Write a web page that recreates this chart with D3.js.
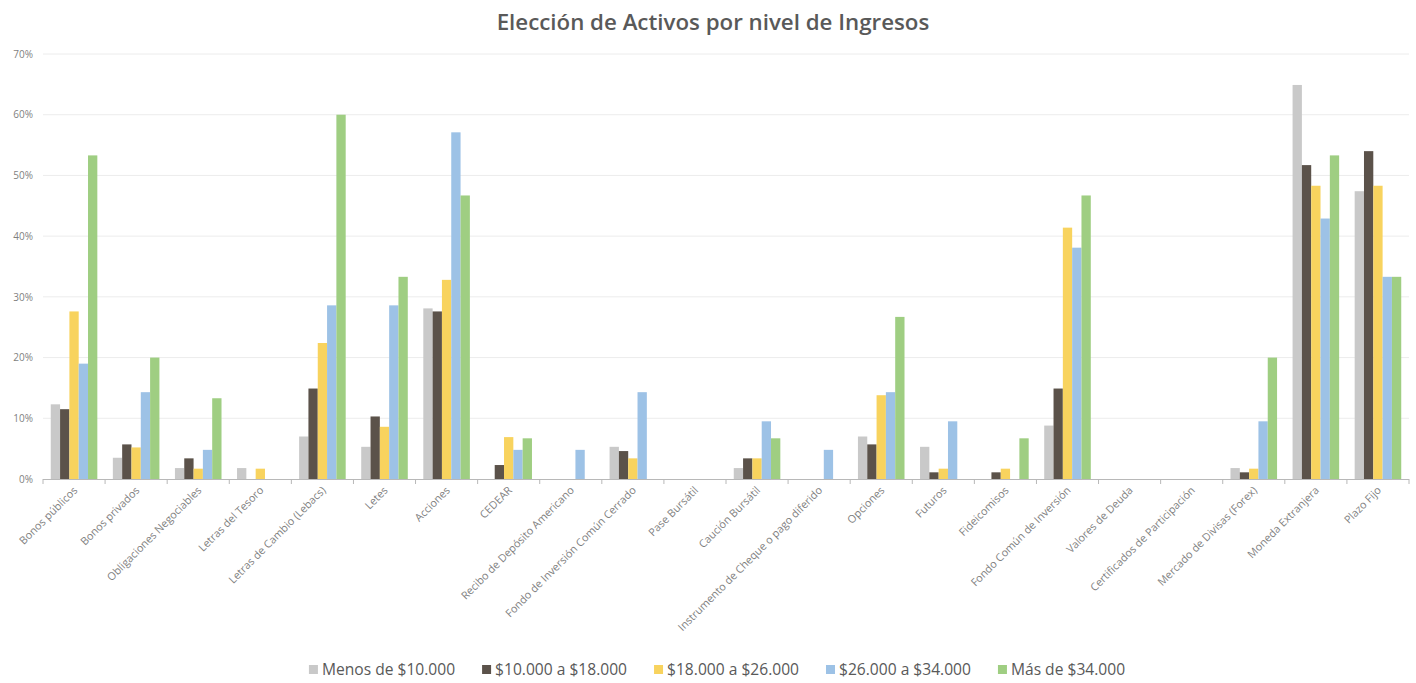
<!DOCTYPE html>
<html>
<head>
<meta charset="utf-8">
<script src="https://cdn.jsdelivr.net/npm/d3@7"></script>
<style>
  html, body { margin: 0; padding: 0; background: #ffffff; }
  svg { display: block; font-family: "Open Sans", "Noto Sans", sans-serif; }
</style>
</head>
<body>
<svg id="chart" width="1416" height="683"></svg>
<script>
// Activos elegidos (% de encuestados) según franja de ingresos
const categories = [
  "Bonos públicos", "Bonos privados", "Obligaciones Negociables", "Letras del Tesoro",
  "Letras de Cambio (Lebacs)", "Letes", "Acciones", "CEDEAR",
  "Recibo de Depósito Americano", "Fondo de Inversión Común Cerrado", "Pase Bursátil",
  "Caución Bursátil", "Instrumento de Cheque o pago diferido", "Opciones", "Futuros",
  "Fideicomisos", "Fondo Común de Inversión", "Valores de Deuda",
  "Certificados de Participación", "Mercado de Divisas (Forex)", "Moneda Extranjera", "Plazo Fijo"
];

const seriesNames = [
  "Menos de $10.000", "$10.000 a $18.000", "$18.000 a $26.000", "$26.000 a $34.000", "Más de $34.000"
];

const menos10000   = [12.3, 3.5, 1.8, 1.8, 7.0, 5.3, 28.1, 0, 0, 5.3, 0, 1.8, 0, 7.0, 5.3, 0, 8.8, 0, 0, 1.8, 64.9, 47.4];
const de10a18000   = [11.5, 5.7, 3.4, 0, 14.9, 10.3, 27.6, 2.3, 0, 4.6, 0, 3.4, 0, 5.7, 1.1, 1.1, 14.9, 0, 0, 1.1, 51.7, 54.0];
const de18a26000   = [27.6, 5.2, 1.7, 1.7, 22.4, 8.6, 32.8, 6.9, 0, 3.4, 0, 3.4, 0, 13.8, 1.7, 1.7, 41.4, 0, 0, 1.7, 48.3, 48.3];
const de26a34000   = [19.0, 14.3, 4.8, 0, 28.6, 28.6, 57.1, 4.8, 4.8, 14.3, 0, 9.5, 4.8, 14.3, 9.5, 0, 38.1, 0, 0, 9.5, 42.9, 33.3];
const masDe34000   = [53.3, 20.0, 13.3, 0, 60.0, 33.3, 46.7, 6.7, 0, 0, 0, 6.7, 0, 26.7, 0, 6.7, 46.7, 0, 0, 20.0, 53.3, 33.3];

const yTicks = [0, 10, 20, 30, 40, 50, 60, 70];
const yTickLabels = ["0%", "10%", "20%", "30%", "40%", "50%", "60%", "70%"];

const colors = ["#c9c9c9", "#5b524a", "#f8d35e", "#9dc2e6", "#9fce82"];

const seriesValues = [menos10000, de10a18000, de18a26000, de26a34000, masDe34000];

const svg = d3.select("#chart");
const plot = { left: 43, right: 1409, top: 54, bottom: 479 };

const x0 = d3.scaleBand()
  .domain(categories)
  .range([plot.left, plot.right])
  .paddingInner(0.25)
  .paddingOuter(0.125);

const x1 = d3.scaleBand()
  .domain(d3.range(seriesNames.length))
  .range([0, x0.bandwidth()])
  .padding(0);

const y = d3.scaleLinear().domain([0, 70]).range([plot.bottom, plot.top]);

// Title
svg.append("text")
  .attr("x", 713).attr("y", 30)
  .attr("text-anchor", "middle")
  .attr("font-size", 22.3)
  .attr("font-weight", 600)
  .attr("fill", "#595959")
  .text("Elección de Activos por nivel de Ingresos");

// Horizontal gridlines
svg.append("g")
  .selectAll("line")
  .data(yTicks.filter(d => d > 0))
  .join("line")
  .attr("x1", plot.left).attr("x2", plot.right)
  .attr("y1", d => y(d)).attr("y2", d => y(d))
  .attr("stroke", "#ececec").attr("stroke-width", 1);

// Y axis labels
const yAxis = d3.axisLeft(y)
  .tickValues(yTicks)
  .tickFormat((d, i) => yTickLabels[i])
  .tickSize(0)
  .tickPadding(10);
const yg = svg.append("g").attr("transform", `translate(${plot.left},0)`).call(yAxis);
yg.select(".domain").remove();
yg.selectAll("text").attr("font-size", 10).attr("fill", "#7f7f7f").attr("font-family", "Open Sans, sans-serif");

// Bars
const rows = categories.map((c, i) => ({ cat: c, vals: seriesValues.map(s => s[i]) }));
svg.append("g")
  .selectAll("g")
  .data(rows)
  .join("g")
  .attr("transform", d => `translate(${x0(d.cat)},0)`)
  .selectAll("rect")
  .data(d => d.vals.map((v, k) => ({ k, v })))
  .join("rect")
  .attr("x", d => x1(d.k))
  .attr("width", x1.bandwidth())
  .attr("y", d => y(d.v))
  .attr("height", d => y(0) - y(d.v))
  .attr("fill", d => colors[d.k]);

// Category axis: baseline, boundary ticks and rotated labels
const ax = svg.append("g");
ax.append("line")
  .attr("x1", plot.left).attr("x2", plot.right)
  .attr("y1", plot.bottom + 0.5).attr("y2", plot.bottom + 0.5)
  .attr("stroke", "#b8b8b8").attr("stroke-width", 1);
const step = x0.step();
ax.selectAll("line.tick")
  .data(d3.range(categories.length + 1))
  .join("line")
  .attr("class", "tick")
  .attr("x1", i => plot.left + i * step).attr("x2", i => plot.left + i * step)
  .attr("y1", plot.bottom).attr("y2", plot.bottom + 5)
  .attr("stroke", "#b8b8b8");
ax.selectAll("text")
  .data(categories)
  .join("text")
  .attr("transform", d => `translate(${x0(d) + x0.bandwidth() / 2 + 4},${plot.bottom + 12}) rotate(-45)`)
  .attr("text-anchor", "end")
  .attr("font-size", 10.8)
  .attr("fill", "#7f7f7f")
  .text(d => d);

// Legend
const legend = svg.append("g").attr("font-size", 15.6).attr("fill", "#595959");
const items = legend.selectAll("g")
  .data(seriesNames)
  .join("g");
items.append("rect")
  .attr("width", 9).attr("height", 9)
  .attr("y", -10)
  .attr("fill", (d, i) => colors[i]);
items.append("text")
  .attr("x", 13).attr("y", 0)
  .text(d => d);
let cursor = 0;
const widths = [];
items.each(function () {
  widths.push(this.querySelector("text").getComputedTextLength() + 13);
});
const gap = 27;
const total = d3.sum(widths) + gap * (widths.length - 1);
cursor = 717 - total / 2;
items.attr("transform", (d, i) => {
  const tx = cursor;
  cursor += widths[i] + gap;
  return `translate(${tx},675)`;
});
</script>
</body>
</html>
